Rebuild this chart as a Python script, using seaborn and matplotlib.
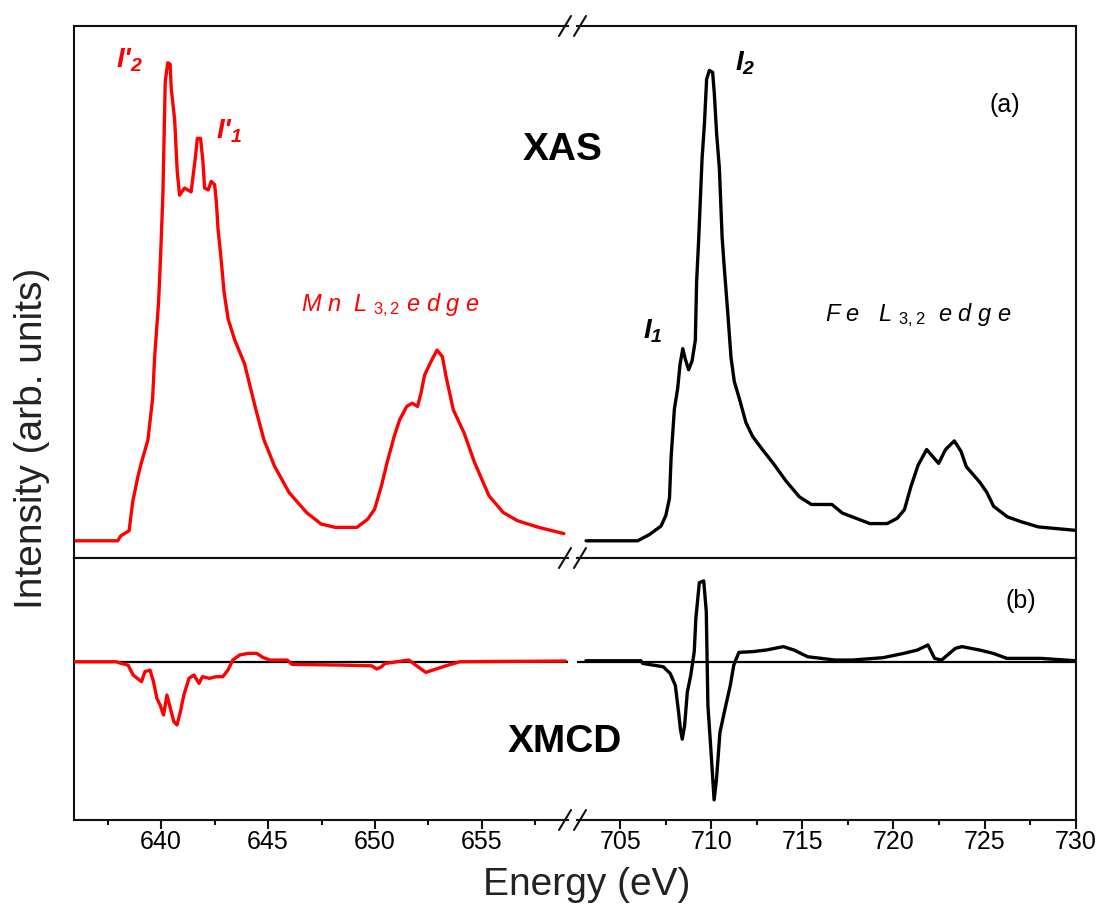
import matplotlib
matplotlib.use("Agg")
import matplotlib.pyplot as plt
from matplotlib.lines import Line2D
from matplotlib.ticker import MultipleLocator
import pandas as pd
import seaborn as sns

# XAS, Mn L3,2 edge (red), normalised to the L3 maximum
mn_xas_e = [635.9, 637.97, 638.1, 638.5, 638.67, 638.9, 639.06, 639.38, 639.6, 639.69,
            639.88, 639.97, 640.08, 640.19, 640.31, 640.42, 640.47, 640.63, 640.75, 640.86,
            641.09, 641.4, 641.6, 641.69, 641.84, 641.95, 642.03, 642.2, 642.34, 642.5,
            642.58, 642.66, 642.78, 642.94, 643.13, 643.44, 643.9, 644.39, 644.8, 645.3,
            645.98, 646.8, 647.48, 648.15, 649.15, 649.65, 649.98, 650.3, 650.56, 650.9,
            651.15, 651.48, 651.74, 651.99, 652.15, 652.32, 652.65, 652.9, 653.15, 653.32,
            653.66, 654.16, 654.66, 655.33, 656.0, 656.66, 657.66, 658.83]
mn_xas_i = [0, 0, 0.010, 0.021, 0.082, 0.132, 0.161, 0.211, 0.298, 0.381,
            0.500, 0.593, 0.723, 0.961, 1.0, 0.997, 0.946, 0.881, 0.773, 0.723,
            0.738, 0.730, 0.802, 0.842, 0.842, 0.795, 0.738, 0.734, 0.752, 0.745,
            0.709, 0.651, 0.600, 0.521, 0.464, 0.420, 0.370, 0.281, 0.212, 0.156,
            0.101, 0.059, 0.035, 0.028, 0.028, 0.045, 0.066, 0.115, 0.163, 0.219,
            0.253, 0.281, 0.288, 0.281, 0.309, 0.347, 0.378, 0.399, 0.385, 0.344,
            0.274, 0.226, 0.163, 0.094, 0.059, 0.042, 0.028, 0.015]

# XAS, Fe L3,2 edge (black)
fe_xas_e = [703.12, 705.95, 706.6, 707.24, 707.5, 707.7, 707.79, 707.97, 708.15, 708.28,
            708.43, 708.57, 708.75, 708.94, 709.12, 709.19, 709.3, 709.49, 709.62, 709.74,
            709.89, 710.07, 710.16, 710.29, 710.44, 710.59, 710.71, 710.9, 711.08, 711.26,
            711.54, 711.9, 712.27, 712.82, 713.36, 714.1, 714.83, 715.49, 716.62, 717.19,
            717.95, 718.7, 719.65, 720.2, 720.6, 720.97, 721.35, 721.82, 722.48, 722.86,
            723.34, 723.71, 724.0, 724.75, 725.13, 725.5, 726.26, 727.0, 727.96, 729.1,
            729.95]
fe_xas_i = [0, 0, 0.013, 0.031, 0.053, 0.089, 0.175, 0.276, 0.319, 0.369,
            0.402, 0.380, 0.358, 0.376, 0.420, 0.542, 0.628, 0.800, 0.873, 0.966,
            0.984, 0.980, 0.937, 0.851, 0.779, 0.635, 0.571, 0.477, 0.383, 0.333,
            0.297, 0.247, 0.218, 0.190, 0.164, 0.125, 0.092, 0.076, 0.076, 0.058,
            0.047, 0.036, 0.036, 0.047, 0.065, 0.115, 0.158, 0.191, 0.162, 0.191,
            0.209, 0.187, 0.155, 0.122, 0.101, 0.072, 0.050, 0.040, 0.029, 0.025,
            0.022]

# XMCD, Mn (red)
mn_xmcd_e = [635.9, 637.9, 638.13, 638.45, 638.69, 639.08, 639.24, 639.48, 639.64, 639.8,
             639.95, 640.11, 640.27, 640.43, 640.59, 640.74, 640.9, 641.06, 641.3, 641.53,
             641.77, 641.93, 642.25, 642.56, 642.88, 643.12, 643.35, 643.67, 644.07, 644.46,
             644.78, 645.1, 645.9, 646.12, 648.42, 649.84, 650.08, 650.3, 650.47, 651.58,
             651.9, 652.37, 652.69, 653.32, 653.96, 658.9]
mn_xmcd_i = [0, 0, -0.012, -0.024, -0.095, -0.143, -0.071, -0.060, -0.143, -0.262,
             -0.310, -0.381, -0.238, -0.333, -0.428, -0.452, -0.357, -0.238, -0.119, -0.095,
             -0.155, -0.107, -0.119, -0.107, -0.107, -0.060, 0.012, 0.048, 0.060, 0.060,
             0.029, 0.012, 0.012, -0.019, -0.024, -0.029, -0.052, -0.036, -0.012, 0.012,
             -0.024, -0.076, -0.060, -0.029, 0, 0.005]

# XMCD, Fe (black)
fe_xmcd_e = [703.11, 706.13, 706.23, 707.36, 707.74, 708.02, 708.2, 708.3, 708.4, 708.53,
             708.68, 708.87, 709.06, 709.15, 709.34, 709.58, 709.72, 709.81, 709.96, 710.15,
             710.28, 710.47, 710.75, 711.04, 711.23, 711.51, 712.26, 713.02, 713.96, 714.53,
             715.28, 716.79, 717.74, 719.43, 720.57, 721.32, 721.89, 722.26, 722.64, 723.4,
             723.77, 724.72, 725.47, 726.23, 728.1, 730.0]
fe_xmcd_i = [0.007, 0.007, -0.012, -0.036, -0.084, -0.169, -0.361, -0.482, -0.554, -0.458,
             -0.217, -0.096, 0.072, 0.313, 0.566, 0.578, 0.361, -0.313, -0.602, -0.988,
             -0.843, -0.506, -0.337, -0.169, -0.024, 0.067, 0.072, 0.084, 0.108, 0.084,
             0.036, 0.012, 0.012, 0.029, 0.060, 0.084, 0.120, 0.024, 0.012, 0.096,
             0.108, 0.084, 0.060, 0.024, 0.024, 0.007]

mn_range = (635.9, 659.0)
fe_range = (702.6, 730.0)

W, H = 1099, 917
RED = "#ff0000"
INK = "#111111"


def curve(e, i):
    return pd.DataFrame({"energy": e, "intensity": i})


def fx(px):
    return px / W


def fy(py):
    return 1 - py / H


sns.set_theme(style="white", rc={"axes.linewidth": 1.5, "axes.edgecolor": INK,
                                 "text.color": "black", "xtick.color": "black"})
plt.rcParams["font.family"] = ["Liberation Sans", "DejaVu Sans"]
plt.rcParams.update({
    "mathtext.fontset": "custom",
    "mathtext.rm": "Liberation Sans",
    "mathtext.it": "Liberation Sans:italic",
    "mathtext.bf": "Liberation Sans:italic:bold",
    "mathtext.default": "it",
})

fig = plt.figure(figsize=(W / 100, H / 100), dpi=100)
left_x, left_w = fx(73.5), fx(494)
right_x, right_w = fx(576.6), fx(499)
top_y, top_h = fy(558), 532 / H
bot_y, bot_h = fy(820), 262 / H

ax_tl = fig.add_axes([left_x, top_y, left_w, top_h])
ax_tr = fig.add_axes([right_x, top_y, right_w, top_h])
ax_bl = fig.add_axes([left_x, bot_y, left_w, bot_h])
ax_br = fig.add_axes([right_x, bot_y, right_w, bot_h])

sns.lineplot(data=curve(mn_xas_e, mn_xas_i), x="energy", y="intensity", ax=ax_tl,
             color=RED, linewidth=2.4, sort=False, estimator=None)
sns.lineplot(data=curve(fe_xas_e, fe_xas_i), x="energy", y="intensity", ax=ax_tr,
             color="black", linewidth=2.4, sort=False, estimator=None)
for ax in (ax_bl, ax_br):
    ax.axhline(0, color="black", linewidth=1.6, zorder=1)
sns.lineplot(data=curve(mn_xmcd_e, mn_xmcd_i), x="energy", y="intensity", ax=ax_bl,
             color=RED, linewidth=2.4, sort=False, estimator=None, zorder=3)
sns.lineplot(data=curve(fe_xmcd_e, fe_xmcd_i), x="energy", y="intensity", ax=ax_br,
             color="black", linewidth=2.4, sort=False, estimator=None, zorder=3)

for ax in (ax_tl, ax_bl):
    ax.set_xlim(*mn_range)
    ax.spines["right"].set_visible(False)
for ax in (ax_tr, ax_br):
    ax.set_xlim(*fe_range)
    ax.spines["left"].set_visible(False)
for ax in (ax_tl, ax_tr):
    ax.set_ylim(-0.036, 1.077)
for ax in (ax_bl, ax_br):
    ax.set_ylim(-1.132, 0.742)

for ax in (ax_tl, ax_tr, ax_bl, ax_br):
    ax.set_xlabel("")
    ax.set_ylabel("")
    ax.set_yticks([])
    ax.xaxis.set_major_locator(MultipleLocator(5))
    ax.xaxis.set_minor_locator(MultipleLocator(2.5))
    ax.tick_params(axis="x", which="major", direction="out", length=6.5, width=1.5,
                   color=INK, bottom=True, labelsize=18, labelcolor="black", pad=1)
    ax.tick_params(axis="x", which="minor", direction="out", length=3.5, width=1.5,
                   color=INK, bottom=True)
for ax in (ax_tl, ax_tr):
    ax.tick_params(axis="x", which="both", labelbottom=False)

# break marks on the energy axis
for y in (26, 558, 820):
    for cx in (565, 580):
        fig.add_artist(Line2D([fx(cx - 6), fx(cx + 6)], [fy(y + 10), fy(y - 10)],
                              color=INK, linewidth=1.5))

# annotations
ax_tl.text(638.54, 1.006, "I'$_{\\mathbf{2}}$", color=RED, fontsize=20,
           fontweight="bold", fontstyle="italic", ha="center", va="center")
ax_tl.text(643.17, 0.857, "I'$_{\\mathbf{1}}$", color=RED, fontsize=20,
           fontweight="bold", fontstyle="italic", ha="center", va="center")
ax_tl.text(650.7, 0.493, "M n  L $_{3,2}$ e d g e", color=RED, fontsize=17,
           fontstyle="italic", ha="center", va="center")
ax_tr.text(711.85, 1.0, "I$_{\\mathbf{2}}$", color="black", fontsize=20,
           fontweight="bold", fontstyle="italic", ha="center", va="center")
ax_tr.text(706.8, 0.439, "I$_{\\mathbf{1}}$", color="black", fontsize=20,
           fontweight="bold", fontstyle="italic", ha="center", va="center")
ax_tr.text(721.35, 0.472, "F e   L $_{3,2}$  e d g e", color="black", fontsize=17,
           fontstyle="italic", ha="center", va="center")
ax_tr.text(726.12, 0.912, "(a)", fontsize=18, ha="center", va="center")
ax_br.text(727.0, 0.433, "(b)", fontsize=18, ha="center", va="center")

fig.text(fx(563), fy(150), "XAS", fontsize=28, fontweight="bold", ha="center", va="center")
fig.text(fx(565), fy(742), "XMCD", fontsize=28, fontweight="bold", ha="center", va="center")
fig.text(fx(587), fy(885), "Energy (eV)", fontsize=28, ha="center", va="center",
         color="#222222")
fig.text(fx(32), fy(438), "Intensity (arb. units)", fontsize=28, rotation=90,
         ha="center", va="center", color="#222222")

fig.savefig("out.png", dpi=100, facecolor="white")
